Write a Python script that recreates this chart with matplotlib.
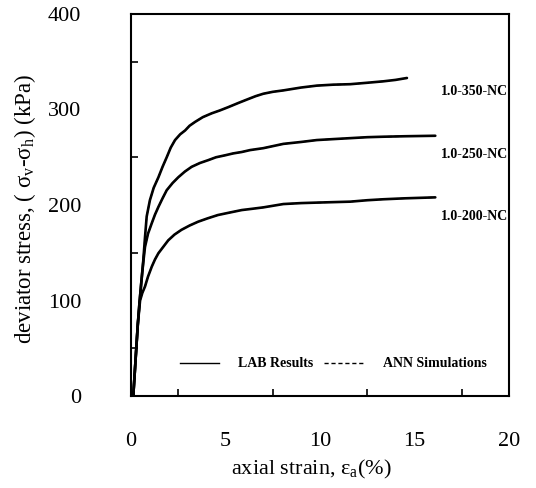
import matplotlib
matplotlib.use("Agg")
import matplotlib.pyplot as plt
from matplotlib.lines import Line2D
from matplotlib.ticker import MultipleLocator

plt.rcParams['font.family'] = ['Liberation Serif', 'DejaVu Serif']
plt.rcParams['mathtext.fontset'] = 'custom'
plt.rcParams['mathtext.rm'] = 'Liberation Serif'
plt.rcParams['mathtext.it'] = 'Liberation Serif:italic'

# ---- data ----
strain_350 = [0.12, 0.2, 0.28, 0.36, 0.45, 0.55, 0.65, 0.74, 0.83, 1.0, 1.2, 1.45, 1.67, 1.89, 2.1, 2.33,
              2.6, 2.86, 3.1, 3.39, 3.8, 4.27, 4.7, 5.15, 5.7, 6.21, 6.6, 7.0, 7.5, 8.06, 9.0, 9.83,
              10.7, 11.6, 12.5, 13.35, 14.0, 14.6]
stress_350 = [0, 25, 50, 75, 98, 120, 142, 166, 188, 205, 218, 229, 240, 250, 260, 268,
              274, 278, 283, 287, 292, 296, 299, 302.5, 307, 311, 314, 316.5, 318.5, 320, 323, 325,
              326, 326.5, 328, 329.5, 331, 333]

strain_250 = [0.12, 0.2, 0.28, 0.36, 0.45, 0.55, 0.65, 0.74, 0.9, 1.1, 1.27, 1.45, 1.67, 1.89, 2.2, 2.5,
              2.85, 3.21, 3.65, 4.09, 4.5, 4.97, 5.4, 5.86, 6.3, 7.0, 8.06, 9.0, 9.83, 10.7, 11.6,
              12.5, 13.35, 14.5, 16.1]
stress_250 = [0, 25, 50, 75, 98, 120, 140, 156, 170, 181, 190, 198, 207, 215.5, 223, 229,
              235, 240, 244, 247, 250, 252, 254, 255.5, 257.5, 259.5, 264, 266, 268, 269, 270,
              271, 271.5, 272, 272.5]

strain_200 = [0.12, 0.2, 0.28, 0.36, 0.48, 0.6, 0.74, 0.9, 1.1, 1.27, 1.45, 1.7, 1.97, 2.3, 2.67, 3.1,
              3.55, 4.05, 4.6, 5.2, 5.86, 6.4, 7.0, 8.06, 9.0, 9.83, 10.7, 11.6, 12.5, 13.35, 14.5, 16.1]
stress_200 = [0, 25, 50, 75, 100, 108, 114.6, 125, 135.5, 143, 149.5, 156, 163, 169, 174, 178.5,
              182.5, 186, 189.5, 192, 194.7, 196, 197.5, 201, 202, 202.5, 203, 203.5, 205, 206, 207, 208]

# ANN simulations overlap the laboratory curves
ann_strain_350, ann_stress_350 = strain_350, stress_350
ann_strain_250, ann_stress_250 = strain_250, stress_250
ann_strain_200, ann_stress_200 = strain_200, stress_200

curve_labels = ["1.0-350-NC", "1.0-250-NC", "1.0-200-NC"]
label_y = [319, 253, 188]

x_ticks = [0, 5, 10, 15, 20]
y_ticks = [0, 100, 200, 300, 400]

fig = plt.figure(figsize=(5.36, 4.88), dpi=100)
ax = fig.add_axes([131/536, 1-396/488, 378/536, 382/488])

for sx, sy in [(strain_350, stress_350), (strain_250, stress_250), (strain_200, stress_200)]:
    ax.plot(sx, sy, color='black', lw=1.9, solid_joinstyle='round', solid_capstyle='round')
for sx, sy in [(ann_strain_350, ann_stress_350), (ann_strain_250, ann_stress_250), (ann_strain_200, ann_stress_200)]:
    ax.plot(sx, sy, color='black', lw=1.0, ls=(0, (3, 2)))

for lab, yv in zip(curve_labels, label_y):
    ax.text(19.95, yv, lab, ha='right', va='center', fontsize=10, fontweight='bold')

ax.set_xlim(0, 20)
ax.set_ylim(0, 400)
ax.set_xticks(x_ticks)
ax.set_yticks(y_ticks)
ax.xaxis.set_minor_locator(MultipleLocator(2.5))
ax.yaxis.set_minor_locator(MultipleLocator(50))
ax.tick_params(axis='both', which='both', direction='in', labelsize=16, width=1.2, colors='black')
ax.tick_params(axis='x', which='major', length=0, pad=26)
ax.tick_params(axis='y', which='major', length=0, pad=36)
ax.tick_params(axis='both', which='minor', length=5)
for s in ax.spines.values():
    s.set_linewidth(1.5)

ax.set_xlabel(r"axial strain, ε$_\mathregular{a}$(%)", fontsize=16)
ax.xaxis.set_label_coords(0.476, -0.163)
ax.set_ylabel(r"deviator stress, ( $\mathregular{\sigma_v}$-$\mathregular{\sigma_h}$) (kPa)", fontsize=16.5)
ax.yaxis.set_label_coords(-0.247, 0.49)

handles = [Line2D([], [], color='black', lw=1.0),
           Line2D([], [], color='black', lw=1.0, ls=(0, (3, 2)))]
leg = ax.legend(handles, ["LAB Results", "ANN Simulations"], ncol=2, frameon=False,
                loc='center', bbox_to_anchor=(0.535, 0.084),
                handlelength=2.8, handletextpad=1.4, columnspacing=0.8,
                prop={'weight': 'bold', 'size': 10})

fig.savefig("out.png", dpi=100)
